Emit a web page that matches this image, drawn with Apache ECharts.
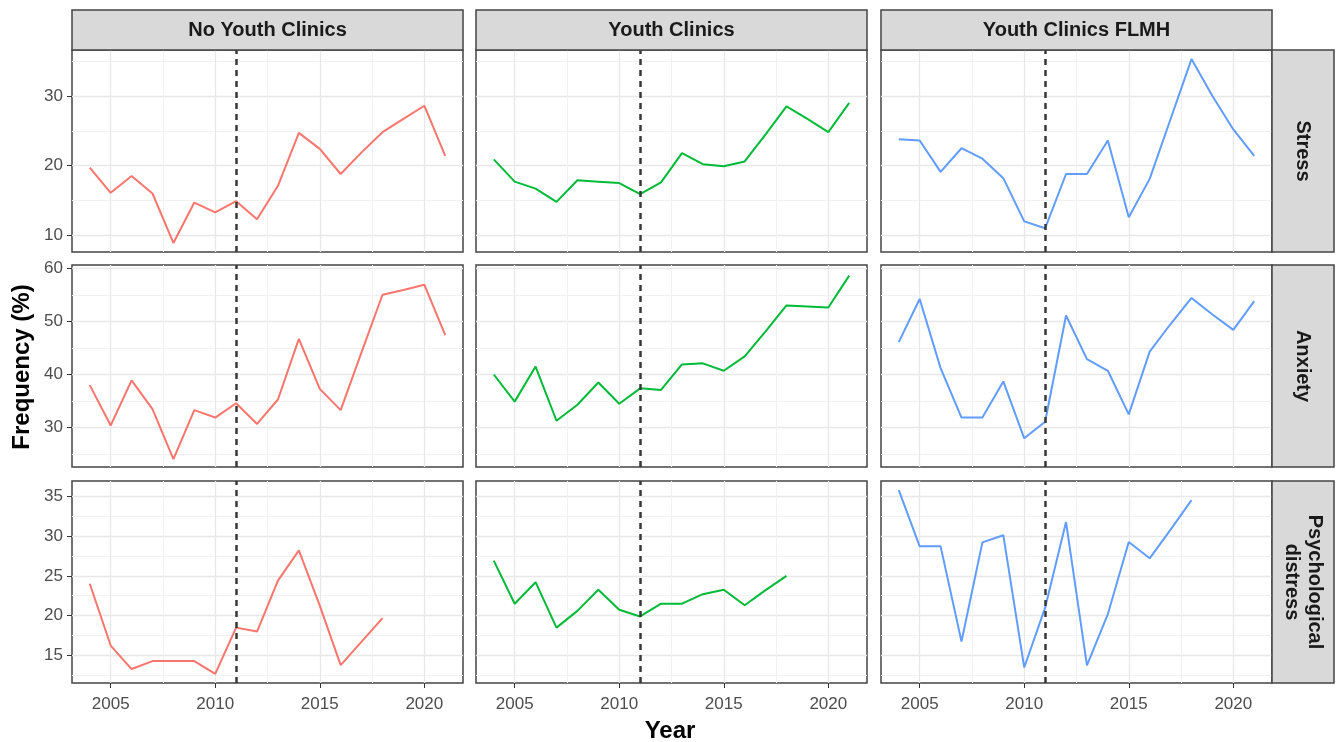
<!DOCTYPE html>
<html><head><meta charset="utf-8">
<script src="https://cdn.jsdelivr.net/npm/echarts@6/dist/echarts.min.js"></script>
<style>html,body{margin:0;padding:0;background:#fff}#c{width:1338px;height:742px}</style>
</head><body><div id="c"></div>
<script>
// ---------- data ----------
const years = [2004,2005,2006,2007,2008,2009,2010,2011,2012,2013,2014,2015,2016,2017,2018,2019,2020,2021];
const columns = ['No Youth Clinics','Youth Clinics','Youth Clinics FLMH'];
const rows = ['Stress','Anxiety','Psychological\ndistress'];

const stressNoYC   = [19.7,16.1,18.5,16.0,8.9,14.7,13.3,14.9,12.3,17.1,24.7,22.4,18.8,21.9,24.8,26.7,28.6,21.4];
const stressYC     = [20.9,17.7,16.7,14.8,17.9,17.7,17.5,15.9,17.6,21.8,20.2,19.9,20.6,24.5,28.5,26.7,24.8,29.0];
const stressFLMH   = [23.8,23.6,19.1,22.5,21.0,18.2,12.0,11.0,18.8,18.8,23.6,12.6,18.1,26.7,35.3,30.0,25.2,21.4];
const anxietyNoYC  = [38.0,30.4,38.9,33.5,24.1,33.3,31.9,34.6,30.7,35.3,46.7,37.3,33.3,44.2,55.0,55.9,56.9,47.4];
const anxietyYC    = [40.0,34.9,41.5,31.3,34.3,38.5,34.5,37.4,37.1,41.9,42.1,40.7,43.4,48.1,53.0,52.8,52.6,58.6];
const anxietyFLMH  = [46.1,54.2,41.2,31.9,31.9,38.7,28.0,31.1,51.1,42.9,40.7,32.5,44.3,49.5,54.4,51.3,48.4,53.8];
const distressNoYC = [24.0,16.25,13.3,14.3,14.3,14.3,12.7,18.5,18.0,24.4,28.2,21.25,13.8,16.75,19.7,null,null,null];
const distressYC   = [26.9,21.5,24.2,18.5,20.6,23.25,20.75,19.9,21.5,21.5,22.7,23.25,21.3,23.2,25.0,null,null,null];
const distressFLMH = [35.75,28.7,28.7,16.75,29.2,30.1,13.5,21.0,31.75,13.75,20.2,29.25,27.2,30.8,34.5,null,null,null];

const xTicks = [2005,2010,2015,2020];
const xMinor = [2007.5,2012.5,2017.5];
const stressTicks = [10,20,30],  stressMinor = [15,25,35];
const anxietyTicks = [30,40,50,60], anxietyMinor = [25,35,45,55];
const distressTicks = [15,20,25,30,35], distressMinor = [12.5,17.5,22.5,27.5,32.5];
const interventionYear = 2011;

const values = [
  [stressNoYC, stressYC, stressFLMH],
  [anxietyNoYC, anxietyYC, anxietyFLMH],
  [distressNoYC, distressYC, distressFLMH]
];
const rowTicks = [stressTicks, anxietyTicks, distressTicks];
const rowMinor = [stressMinor, anxietyMinor, distressMinor];
const rowRange = [[7.6,36.6],[22.6,60.6],[11.55,36.9]];
const xRange = [2003.15, 2021.85];

// ---------- layout ----------
const colors = ['#F8766D','#00BA38','#619CFF'];
const FONT = '"Liberation Sans", Arial, sans-serif';
const colLeft = [72, 476, 881];
const rowTop = [50, 265, 481];
const PW = 391, PH = 202;

const grids = [], xAxes = [], yAxes = [], series = [], graphics = [];
for (let r = 0; r < 3; r++) {
  for (let c = 0; c < 3; c++) {
    const i = r * 3 + c;
    grids.push({left: colLeft[c], top: rowTop[r], width: PW, height: PH, show: true,
      borderColor: '#444', borderWidth: 1.5, backgroundColor: '#fff'});
    xAxes.push({gridIndex: i, type: 'value', min: xRange[0], max: xRange[1],
      axisLine: {show: false}, splitLine: {show: false},
      axisTick: {show: r === 2, customValues: xTicks, length: 5, lineStyle: {color: '#333'}},
      axisLabel: {show: r === 2, customValues: xTicks, margin: 13, color: '#4d4d4d', fontSize: 17, fontFamily: FONT,
        formatter: v => String(v)}});
    yAxes.push({gridIndex: i, type: 'value', min: rowRange[r][0], max: rowRange[r][1],
      axisLine: {show: false}, splitLine: {show: false},
      axisTick: {show: c === 0, customValues: rowTicks[r], length: 5, lineStyle: {color: '#333'}},
      axisLabel: {show: c === 0, customValues: rowTicks[r], margin: 9, color: '#4d4d4d', fontSize: 17, fontFamily: FONT,
        formatter: v => String(v)}});
    const gl = [];
    rowTicks[r].forEach(v => gl.push({yAxis: v, lineStyle: {color: '#e8e8e8', width: 1.3, type: 'solid'}}));
    rowMinor[r].forEach(v => gl.push({yAxis: v, lineStyle: {color: '#f1f1f1', width: 1, type: 'solid'}}));
    xTicks.forEach(v => gl.push({xAxis: v, lineStyle: {color: '#e8e8e8', width: 1.3, type: 'solid'}}));
    xMinor.forEach(v => gl.push({xAxis: v, lineStyle: {color: '#f1f1f1', width: 1, type: 'solid'}}));
    series.push({type: 'line', xAxisIndex: i, yAxisIndex: i, data: [], silent: true, z: 1,
      markLine: {silent: true, symbol: 'none', z: 1, animation: false, label: {show: false}, data: gl}});
    series.push({type: 'line', xAxisIndex: i, yAxisIndex: i, z: 3,
      data: years.map((y, k) => [y, values[r][c][k]]),
      showSymbol: false, connectNulls: false, animation: false,
      lineStyle: {color: colors[c], width: 2}, itemStyle: {color: colors[c]},
      markLine: {silent: true, symbol: 'none', z: 6, animation: false, label: {show: false},
        data: [{xAxis: interventionYear}],
        lineStyle: {color: '#383838', width: 2.5, type: [6, 5]}}});
  }
}

// strips
for (let c = 0; c < 3; c++) {
  graphics.push({type: 'rect', shape: {x: colLeft[c], y: 10, width: PW, height: 40},
    style: {fill: '#d9d9d9', stroke: '#444', lineWidth: 1.5}, z: 10});
  graphics.push({type: 'text', x: colLeft[c] + PW / 2, y: 30, z: 11,
    style: {text: columns[c], font: 'bold 20px ' + FONT, fill: '#1a1a1a', align: 'center', verticalAlign: 'middle'}});
}
for (let r = 0; r < 3; r++) {
  graphics.push({type: 'rect', shape: {x: 1272, y: rowTop[r], width: 62, height: PH},
    style: {fill: '#d9d9d9', stroke: '#444', lineWidth: 1.5}, z: 10});
  graphics.push({type: 'text', x: 1303, y: rowTop[r] + PH / 2, rotation: -Math.PI / 2, z: 11,
    style: {text: rows[r], font: 'bold 20px ' + FONT, fill: '#1a1a1a', align: 'center', verticalAlign: 'middle', lineHeight: 23}});
}
graphics.push({type: 'text', x: 22, y: 367, rotation: Math.PI / 2, z: 11,
  style: {text: 'Frequency (%)', font: 'bold 24px ' + FONT, fill: '#000', align: 'center', verticalAlign: 'middle'}});
graphics.push({type: 'text', x: 670, y: 731, z: 11,
  style: {text: 'Year', font: 'bold 24px ' + FONT, fill: '#000', align: 'center', verticalAlign: 'middle'}});

const chart = echarts.init(document.getElementById('c'), null, {renderer: 'canvas'});
chart.setOption({
  animation: false,
  backgroundColor: '#fff',
  grid: grids, xAxis: xAxes, yAxis: yAxes, series: series, graphic: graphics
});
</script></body></html>
